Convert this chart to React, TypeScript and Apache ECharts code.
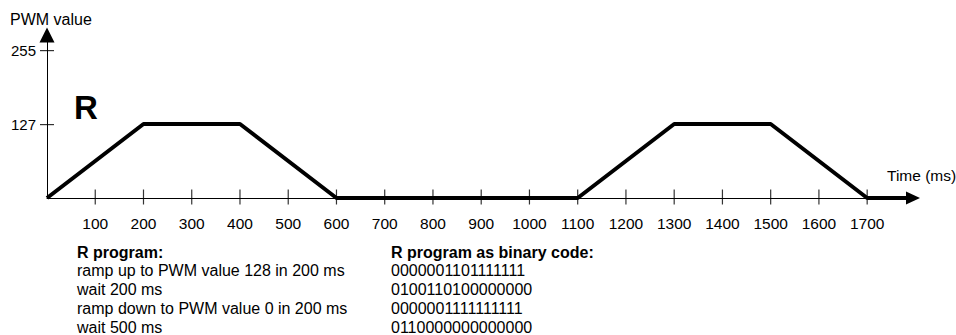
import React, { useEffect, useRef } from "react";
import * as echarts from "echarts";

const xTickValues = [100, 200, 300, 400, 500, 600, 700, 800, 900, 1000, 1100, 1200, 1300, 1400, 1500, 1600, 1700];
const yTickValues = [127, 255];
const signalTime = [0, 200, 400, 600, 1100, 1300, 1500, 1700, 1785];
const signalPwm = [0, 128, 128, 0, 0, 128, 128, 0, 0];
const programTitle = "R program:";
const programLines = [
  "ramp up to PWM value 128 in 200 ms",
  "wait 200 ms",
  "ramp down to PWM value 0 in 200 ms",
  "wait 500 ms",
];
const binaryTitle = "R program as binary code:";
const binaryLines = ["0000001101111111", "0100110100000000", "0000001111111111", "0110000000000000"];

const FONT = "'Liberation Sans', Arial, sans-serif";

export default function App() {
  const ref = useRef<HTMLDivElement>(null);
  useEffect(() => {
    if (!ref.current) return;
    const chart = echarts.init(ref.current, null, { renderer: "svg" });
    const xMax = 1795;
    const yMax = 282;
    chart.setOption({
      animation: false,
      backgroundColor: "#fff",
      textStyle: { fontFamily: FONT, color: "#000" },
      grid: { left: 47, right: 43, top: 35, bottom: 137, outerBoundsMode: "none", containLabel: false },
      xAxis: {
        type: "value",
        min: 0,
        max: xMax,
        splitLine: { show: false },
        axisTick: { show: false },
        axisLine: {
          show: true,
          onZero: false,
          symbol: ["none", "triangle"],
          symbolSize: [13, 14],
          lineStyle: { color: "#000", width: 1 },
        },
        axisLabel: {
          customValues: xTickValues,
          formatter: (v: number) => String(v),
          color: "#000",
          fontSize: 15.5,
          fontFamily: FONT,
          margin: 17,
        },
      },
      yAxis: {
        type: "value",
        min: 0,
        max: yMax,
        splitLine: { show: false },
        axisTick: { show: false },
        axisLine: {
          show: true,
          onZero: false,
          symbol: ["none", "triangle"],
          symbolSize: [15, 15],
          lineStyle: { color: "#000", width: 1 },
        },
        axisLabel: {
          customValues: yTickValues,
          formatter: (v: number) => String(v),
          color: "#000",
          fontSize: 15,
          fontFamily: FONT,
          margin: 11,
        },
      },
      series: [
        {
          type: "line",
          data: signalTime.map((t, i) => [t, signalPwm[i]]),
          symbol: "none",
          clip: false,
          lineStyle: { color: "#000", width: 4 },
          z: 3,
        },
        {
          type: "scatter",
          data: xTickValues.map((v) => [v, 0]),
          symbol: "rect",
          symbolSize: [1.2, 15],
          symbolOffset: [0, -1],
          clip: false,
          itemStyle: { color: "#000" },
          z: 4,
        },
        {
          type: "scatter",
          data: yTickValues.map((v) => [0, v]),
          symbol: "rect",
          symbolSize: [14, 1.2],
          clip: false,
          itemStyle: { color: "#000" },
          z: 4,
        },
      ],
      graphic: [
        {
          type: "text",
          x: 10,
          y: 19,
          style: { text: "PWM value", font: `16px ${FONT}`, fill: "#000", verticalAlign: "middle" },
        },
        {
          type: "text",
          x: 86,
          y: 107,
          style: { text: "R", font: `bold 33px ${FONT}`, fill: "#000", align: "center", verticalAlign: "middle" },
        },
        {
          type: "text",
          x: 887,
          y: 175,
          style: { text: "Time (ms)", font: `15.5px ${FONT}`, fill: "#000", verticalAlign: "middle" },
        },
        {
          type: "text",
          x: 77,
          y: 252,
          style: { text: programTitle, font: `bold 16px ${FONT}`, fill: "#000", verticalAlign: "middle" },
        },
        {
          type: "text",
          x: 77,
          y: 260.5,
          style: { text: programLines.join("\n"), font: `16px ${FONT}`, lineHeight: 19, fill: "#000", verticalAlign: "top" },
        },
        {
          type: "text",
          x: 391,
          y: 252,
          style: { text: binaryTitle, font: `bold 16px ${FONT}`, fill: "#000", verticalAlign: "middle" },
        },
        {
          type: "text",
          x: 391,
          y: 260.5,
          style: { text: binaryLines.join("\n"), font: `16px ${FONT}`, lineHeight: 19, fill: "#000", verticalAlign: "top" },
        },
      ],
    });
    return () => chart.dispose();
  }, []);
  return (
    <div
      ref={ref}
      style={{ position: "fixed", left: 0, top: 0, width: 956, height: 335, background: "#fff" }}
    />
  );
}
